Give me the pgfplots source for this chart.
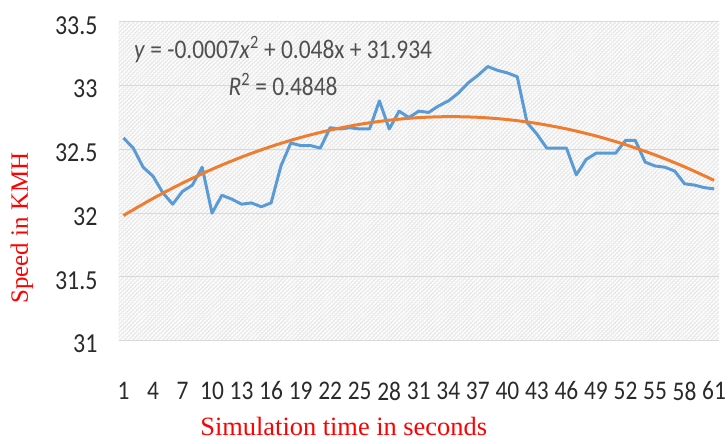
\documentclass[border=0pt]{standalone}
\usepackage{pgfplots}
\pgfplotsset{compat=1.18}
\usepackage{fontspec}
\setmainfont{Carlito}
\newfontfamily\timesfont{Liberation Serif}
\usetikzlibrary{patterns.meta}
\definecolor{exblue}{HTML}{5B9BD5}
\definecolor{exorange}{HTML}{ED7D31}
\definecolor{ticktext}{HTML}{2A2A2A}
\definecolor{eqtext}{HTML}{505050}

\pgfplotstableread{
x y
1 32.59
2 32.51
3 32.36
4 32.29
5 32.16
6 32.07
7 32.17
8 32.22
9 32.36
10 32.00
11 32.14
12 32.11
13 32.07
14 32.08
15 32.05
16 32.08
17 32.37
18 32.55
19 32.53
20 32.53
21 32.51
22 32.67
23 32.66
24 32.67
25 32.66
26 32.66
27 32.88
28 32.66
29 32.80
30 32.75
31 32.80
32 32.79
33 32.84
34 32.88
35 32.94
36 33.02
37 33.08
38 33.15
39 33.12
40 33.10
41 33.07
42 32.71
43 32.62
44 32.51
45 32.51
46 32.51
47 32.30
48 32.42
49 32.47
50 32.47
51 32.47
52 32.57
53 32.57
54 32.40
55 32.37
56 32.36
57 32.33
58 32.23
59 32.22
60 32.20
61 32.19
}\speed

\pgfplotstableread{
x y
1 31.9813
4 32.1148
7 32.2357
10 32.3440
13 32.4397
16 32.5228
19 32.5933
22 32.6512
25 32.6965
28 32.7292
31 32.7493
34 32.7568
37 32.7517
40 32.7340
43 32.7037
46 32.6608
49 32.6053
52 32.5372
55 32.4565
58 32.3632
61 32.2573
}\trend

\begin{document}
\begin{tikzpicture}
\path[use as bounding box] (-119pt,-103pt) rectangle (612pt,342pt);
\begin{axis}[
  at={(0,0)}, anchor=south west,
  scale only axis, width=603pt, height=320pt,
  xmin=0.5, xmax=61.5, ymin=31, ymax=33.5,
  xtick={1,4,7,10,13,16,19,22,25,28,31,34,37,40,43,46,49,52,55,58,61},
  ytick={31,31.5,32,32.5,33,33.5},
  yticklabels={31,31.5,32,32.5,33,33.5},
  axis line style={draw=none},
  major tick length=0pt,
  ymajorgrids,
  grid style={draw=gray!30, line width=0.9pt},
  tick label style={text=ticktext, yscale=1.15, inner sep=0pt},
  /pgf/number format/assume math mode=true,
  yticklabel style={font=\fontsize{24}{24}\selectfont, anchor=east, xshift=-21pt, yshift=-3pt},
  xticklabel style={font=\fontsize{23.5}{23.5}\selectfont, anchor=center, yshift=-44pt},
  axis background/.style={fill=white,
    postaction={pattern={Lines[angle=45,distance=3pt,line width=1.1pt]}, pattern color=gray!20},
    postaction={pattern={Lines[angle=-45,distance=3pt,line width=0.6pt]}, pattern color=gray!12}},
  xlabel={Simulation time in seconds},
  xlabel style={at={(axis description cs:0.375,-0.297)}, anchor=base,
    font=\fontsize{26.5}{28}\timesfont, text=red},
  ylabel={Speed in KMH},
  ylabel style={at={(axis description cs:-0.161,0.353)}, anchor=center, rotate=0,
    font=\fontsize{25}{27}\timesfont, text=red},
]
\addplot[exblue, line width=3pt, line join=round] table[x=x,y=y] {\speed};
\addplot[exorange, line width=3pt, smooth] table[x=x,y=y] {\trend};
\node[font=\fontsize{23.5}{25}\selectfont, text=eqtext, anchor=center, yscale=1.15]
  at (axis description cs:0.274,0.9125)
  {\textit{y} = -0.0007\textit{x}\textsuperscript{2} + 0.048x + 31.934};
\node[font=\fontsize{23.5}{25}\selectfont, text=eqtext, anchor=center, yscale=1.15]
  at (axis description cs:0.274,0.803)
  {\textit{R}\textsuperscript{2} = 0.4848};
\end{axis}
\end{tikzpicture}
\end{document}
